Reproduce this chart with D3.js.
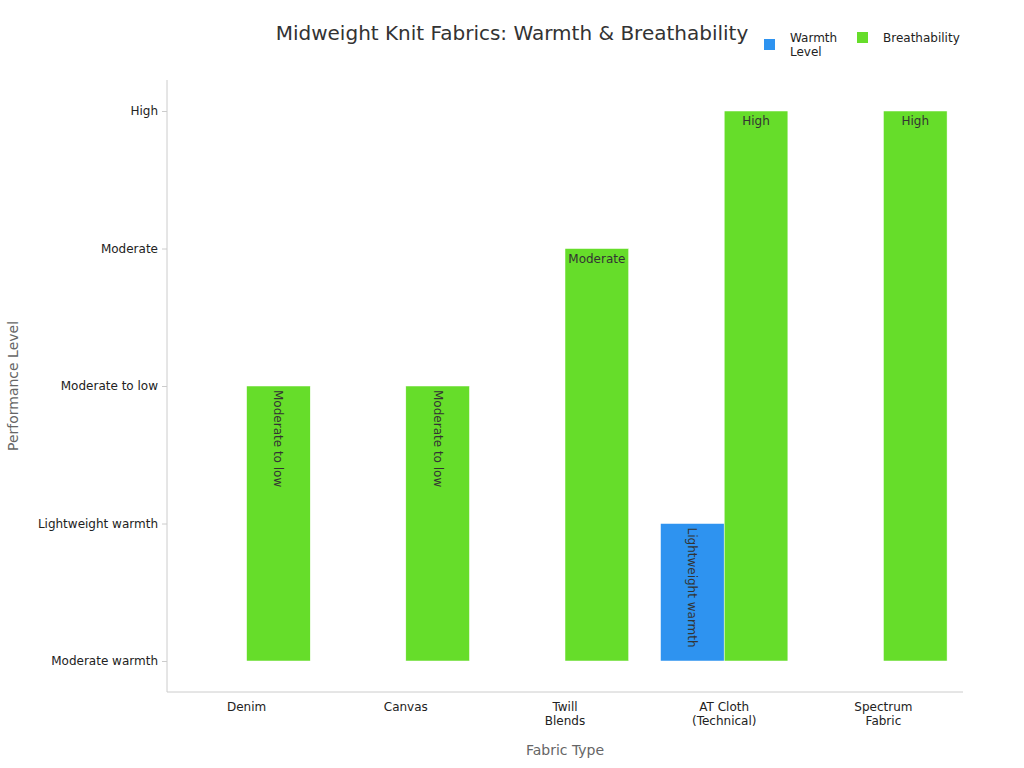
<!DOCTYPE html>
<html lang="en">
  <head>
    <meta charset="UTF-8" />
    <script src="https://d3js.org/d3.v7.min.js"></script>
    <style>
      body { margin: 0; background: #fff; font-family: "DejaVu Sans", sans-serif; }
      .axis path, .axis line { stroke: #ccc; }
      .axis text { fill: #222; font-size: 12px; font-family: "DejaVu Sans", sans-serif; }
    </style>
    <title>Chart</title>
  </head>
  <body>
    <svg id="chart" width="1024" height="768"></svg>
    <script>
      const fabrics = ["Denim", "Canvas", "Twill\nBlends", "AT Cloth\n(Technical)", "Spectrum\nFabric"];
      const levels = ["Moderate warmth", "Lightweight warmth", "Moderate to low", "Moderate", "High"];
      const warmth = ["Moderate warmth", "Moderate warmth", "Moderate warmth", "Lightweight warmth", "Moderate warmth"];
      const breathability = ["Moderate to low", "Moderate to low", "Moderate", "High", "High"];
      const seriesNames = ["Warmth\nLevel", "Breathability"];
      const colors = ["#2e93f0", "#66dd2a"];

      const svg = d3.select("#chart");
      const margin = { top: 80, right: 61, bottom: 76, left: 167 };
      const width = 1024 - margin.left - margin.right;
      const height = 768 - margin.top - margin.bottom;
      const g = svg.append("g").attr("transform", `translate(${margin.left},${margin.top})`);

      const x = d3.scaleBand().domain(fabrics).range([0, width]);
      const xs = d3.scaleBand().domain([0, 1]).range([x.bandwidth() * 0.1, x.bandwidth() * 0.9]);
      const y = d3.scalePoint().domain(levels).range([height - 31, 31]);
      const base = y(levels[0]);

      // axes
      const yAxis = g.append("g").attr("class", "axis").call(d3.axisLeft(y).tickSize(5).tickPadding(4));
      yAxis.select(".domain").attr("d", `M0,0V${height}`);
      const xAxis = g.append("g").attr("class", "axis")
        .attr("transform", `translate(0,${height})`)
        .call(d3.axisBottom(x).tickSize(0).tickPadding(10));
      xAxis.select(".domain").attr("d", `M0,0H${width}`);
      xAxis.selectAll(".tick text").each(function (d) {
        const t = d3.select(this).text(null);
        d.split("\n").forEach((s, i) => t.append("tspan").attr("x", 0).attr("dy", i ? "1.2em" : "0.71em").text(s));
      });

      // bars
      const data = [warmth, breathability];
      data.forEach((arr, si) => {
        arr.forEach((v, i) => {
          const bx = x(fabrics[i]) + xs(si);
          const by = y(v);
          const h = base - by;
          if (h <= 0) return;
          g.append("rect").attr("x", bx).attr("y", by).attr("width", xs.bandwidth()).attr("height", h)
            .attr("fill", colors[si]).attr("stroke", "#fff").attr("stroke-width", 0.5);
          const cx = bx + xs.bandwidth() / 2;
          const lbl = g.append("text").attr("fill", "#333").attr("font-size", 12).text(v);
          if (lbl.node().getComputedTextLength() > xs.bandwidth() - 6) {
            lbl.attr("transform", `translate(${cx - 4},${by + 4}) rotate(90)`);
          } else {
            lbl.attr("x", cx).attr("y", by + 14).attr("text-anchor", "middle");
          }
        });
      });

      // labels
      svg.append("text").attr("x", 512).attr("y", 40).attr("text-anchor", "middle")
        .attr("font-size", 20).attr("fill", "#333").text("Midweight Knit Fabrics: Warmth & Breathability");
      svg.append("text").attr("x", margin.left + width / 2).attr("y", 755).attr("text-anchor", "middle")
        .attr("font-size", 14).attr("fill", "#666").text("Fabric Type");
      svg.append("text").attr("transform", "translate(18,386) rotate(-90)").attr("text-anchor", "middle")
        .attr("font-size", 14).attr("fill", "#666").text("Performance Level");

      // legend
      const legX = [764, 857];
      seriesNames.forEach((n, i) => {
        svg.append("rect").attr("x", legX[i]).attr("y", i ? 32 : 39).attr("width", 11).attr("height", 11).attr("fill", colors[i]);
        const t = svg.append("text").attr("x", legX[i] + 26).attr("y", 42).attr("font-size", 12).attr("fill", "#222");
        n.split("\n").forEach((s, k) => t.append("tspan").attr("x", legX[i] + 26).attr("dy", k ? "1.2em" : 0).text(s));
      });
    </script>
  </body>
</html>
